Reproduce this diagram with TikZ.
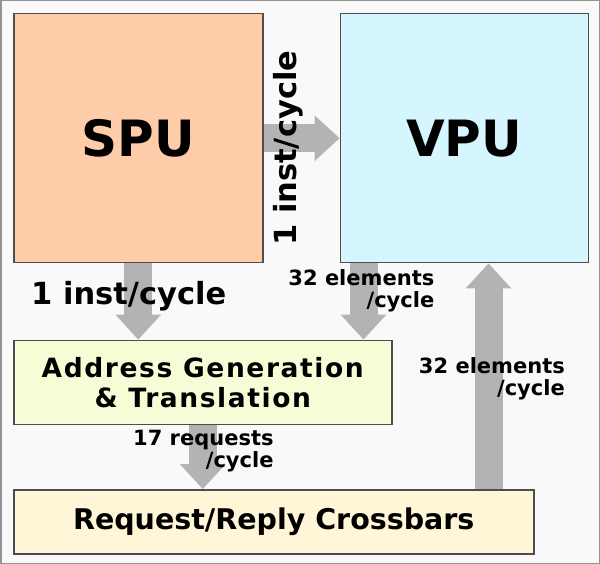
\documentclass[tikz,border=0pt]{standalone}
\usepackage{fontspec}
\setmainfont{DejaVu Sans}
\usepackage{xcolor}
\usepackage{tikz}
\usetikzlibrary{arrows.meta,positioning}

\definecolor{spufill}{HTML}{FFCCAA}
\definecolor{vpufill}{HTML}{D5F5FF}
\definecolor{agtfill}{HTML}{F5FDD7}
\definecolor{xbarfill}{HTML}{FFF5D7}
\definecolor{bggray}{HTML}{F9F9F9}
\definecolor{flowgray}{HTML}{B3B3B3}
\definecolor{edgegray}{HTML}{4D4D4D}

\begin{document}
\begin{tikzpicture}[x=1pt, y=1pt, node distance=76pt,
    unit/.style={rectangle, draw=edgegray, line width=1.5pt, inner sep=0pt, minimum width=249pt, minimum height=249pt, font=\fontsize{50}{60}\selectfont\bfseries},
    stage/.style={rectangle, draw=edgegray, line width=1.5pt, inner sep=0pt, align=center, font=\fontsize{26.5}{30}\selectfont\bfseries\addfontfeature{LetterSpace=6}},
    flow/.style={draw=flowgray, line width=28pt, -{Triangle[length=25pt, width=46pt, line width=0pt]}},
    rate/.style={inner sep=0pt, align=right, anchor=north east, font=\fontsize{21}{22}\selectfont\bfseries},
    bigrate/.style={inner sep=0pt, anchor=base, font=\fontsize{30.5}{36}\selectfont\bfseries}]

    \useasboundingbox (0,0) rectangle (600,-564);
    \draw[draw=edgegray!60, fill=bggray, line width=1.5pt] (0.75,-0.75) rectangle (599.25,-563.25);

    \node[unit, fill=spufill, anchor=north west] (spu) at (13,-13) {SPU};
    \node[unit, fill=vpufill, minimum width=248pt, right=of spu] (vpu) {VPU};

    \node[stage, fill=agtfill, minimum width=378pt, minimum height=84pt, below=76pt of spu.south west, anchor=north west] (agt) {Address Generation\\\& Translation};
    \node[stage, fill=xbarfill, minimum width=520pt, minimum height=64pt, below=64pt of agt.south west, anchor=north west, font=\fontsize{28.5}{34}\selectfont\bfseries] (xbar) {Request/Reply Crossbars};

    \draw[flow] (spu.east) -- (vpu.west);
    \draw[flow] (spu.south) -- (spu.south |- agt.north);
    \draw[flow] ([xshift=24pt]vpu.south west) -- ([xshift=24pt]vpu.south west |- agt.north);
    \draw[flow] (agt.south) -- (agt.south |- xbar.north);
    \draw[flow] ([xshift=-46pt]xbar.north east) -- ([xshift=-46pt]xbar.north east |- vpu.south);

    \node[bigrate, rotate=90] (instvpu) at ([xshift=33pt, yshift=-10pt]spu.east) {1 inst/cycle};
    \node[bigrate] (instagt) at ([xshift=-9.5pt, yshift=-41pt]spu.south) {1 inst/cycle};
    \node[rate] (elemagt) at ([xshift=95pt, yshift=-6pt]vpu.south west) {32 elements\\/cycle};
    \node[rate] (elemvpu) at ([xshift=-24pt, yshift=-94pt]vpu.south east) {32 elements\\/cycle};
    \node[rate] (reqxbar) at ([xshift=71pt, yshift=-4.5pt]agt.south) {17 requests\\/cycle};

\end{tikzpicture}
\end{document}
